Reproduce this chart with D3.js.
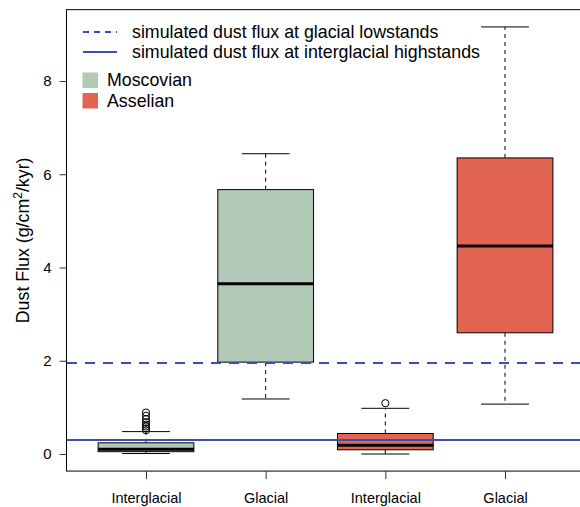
<!DOCTYPE html>
<html>
<head>
<meta charset="utf-8">
<script src="https://cdn.jsdelivr.net/npm/d3@7"></script>
<style>
  html, body { margin: 0; padding: 0; background: #fff; }
  svg { display: block; font-family: "Liberation Sans", Arial, sans-serif; }
</style>
</head>
<body>
<svg id="chart" width="580" height="507"></svg>
<script>
// Group labels along the x axis
const categories = ["Interglacial", "Glacial", "Interglacial", "Glacial"];
// Stage of each box
const stages = ["Moscovian", "Moscovian", "Asselian", "Asselian"];
// Box statistics: lower whisker, lower hinge, median, upper hinge, upper whisker
const whiskerLow  = [0.01, 1.18, 0.00, 1.07];
const hingeLow    = [0.05, 1.97, 0.09, 2.60];
const medians     = [0.10, 3.65, 0.19, 4.46];
const hingeHigh   = [0.24, 5.67, 0.44, 6.35];
const whiskerHigh = [0.48, 6.44, 0.98, 9.16];
// Outlying points per box
const outliers = [
  [0.51, 0.55, 0.59, 0.63, 0.68, 0.75, 0.82, 0.89],
  [],
  [1.09],
  []
];
// Simulated reference fluxes
const glacialLowstand = 1.95;
const interglacialHighstand = 0.30;
const yTicks = [0, 2, 4, 6, 8];

const stageColor = { Moscovian: "#b1cab8", Asselian: "#e26452" };
const refColor = "#3b4fb3";

const svg = d3.select("#chart");

const x = d3.scaleLinear().domain([0.34, 4.66]).range([67, 584]);
const y = d3.scaleLinear().domain([0, 8]).range([454, 81]);
const yLo = -0.366, yHi = 9.53;
const boxHalf = 0.4, capHalf = 0.2;

// Plot frame
svg.append("rect")
  .attr("x", x(0.34) - 0.5).attr("y", y(yHi))
  .attr("width", x(4.66) - x(0.34)).attr("height", y(yLo) - y(yHi))
  .attr("fill", "none").attr("stroke", "#000").attr("stroke-width", 1);

// Boxes
const groups = svg.append("g").selectAll("g")
  .data(categories.map((c, i) => ({ i, c })))
  .join("g");

// whisker stems (dashed)
groups.append("line")
  .attr("x1", d => x(d.i + 1)).attr("x2", d => x(d.i + 1))
  .attr("y1", d => y(hingeHigh[d.i])).attr("y2", d => y(whiskerHigh[d.i]))
  .attr("stroke", "#000").attr("stroke-dasharray", "4,4");
groups.append("line")
  .attr("x1", d => x(d.i + 1)).attr("x2", d => x(d.i + 1))
  .attr("y1", d => y(hingeLow[d.i])).attr("y2", d => y(whiskerLow[d.i]))
  .attr("stroke", "#000").attr("stroke-dasharray", "4,4");
// staples
[whiskerHigh, whiskerLow].forEach(arr => {
  groups.append("line")
    .attr("x1", d => x(d.i + 1 - capHalf)).attr("x2", d => x(d.i + 1 + capHalf))
    .attr("y1", d => y(arr[d.i])).attr("y2", d => y(arr[d.i]))
    .attr("stroke", "#000");
});
// box bodies
groups.append("rect")
  .attr("x", d => x(d.i + 1 - boxHalf))
  .attr("width", d => x(d.i + 1 + boxHalf) - x(d.i + 1 - boxHalf))
  .attr("y", d => y(hingeHigh[d.i]))
  .attr("height", d => y(hingeLow[d.i]) - y(hingeHigh[d.i]))
  .attr("fill", d => stageColor[stages[d.i]])
  .attr("stroke", "#000").attr("stroke-width", 1);
// medians
groups.append("line")
  .attr("x1", d => x(d.i + 1 - boxHalf)).attr("x2", d => x(d.i + 1 + boxHalf))
  .attr("y1", d => y(medians[d.i])).attr("y2", d => y(medians[d.i]))
  .attr("stroke", "#000").attr("stroke-width", 3);
// outliers
groups.selectAll("circle")
  .data(d => outliers[d.i].map(v => ({ i: d.i, v })))
  .join("circle")
  .attr("cx", d => x(d.i + 1)).attr("cy", d => y(d.v)).attr("r", 3.6)
  .attr("fill", "none").attr("stroke", "#000").attr("stroke-width", 1);

// Reference lines
svg.append("line")
  .attr("x1", x(0.34)).attr("x2", x(4.66))
  .attr("y1", y(glacialLowstand)).attr("y2", y(glacialLowstand))
  .attr("stroke", refColor).attr("stroke-width", 2).attr("stroke-dasharray", "10,8");
svg.append("line")
  .attr("x1", x(0.34)).attr("x2", x(4.66))
  .attr("y1", y(interglacialHighstand)).attr("y2", y(interglacialHighstand))
  .attr("stroke", refColor).attr("stroke-width", 2);

// Y axis
const yAxis = d3.axisLeft(y).tickValues(yTicks).tickSize(7).tickPadding(8).tickFormat(d3.format("d"));
const gy = svg.append("g").attr("transform", `translate(${x(0.34) - 0.5},0)`).call(yAxis);
gy.select(".domain").remove();
gy.selectAll("line").attr("stroke", "#333");
gy.selectAll("text").attr("font-size", 15).attr("fill", "#000")
  .attr("font-family", "Liberation Sans, Arial, sans-serif");

// X axis
const xAxis = d3.axisBottom(x).tickValues([1, 2, 3, 4]).tickSize(8).tickPadding(14)
  .tickFormat((d, i) => categories[i]);
const gx = svg.append("g").attr("transform", `translate(0,${y(yLo)})`).call(xAxis);
gx.select(".domain").remove();
gx.selectAll("line").attr("stroke", "#333");
gx.selectAll("text").attr("font-size", 14.5).attr("fill", "#000")
  .attr("font-family", "Liberation Sans, Arial, sans-serif");

// Y axis title, centred on the plot region
const title = svg.append("text")
  .attr("transform", `translate(29,${(y(yLo) + y(yHi)) / 2}) rotate(-90)`)
  .attr("text-anchor", "middle").attr("font-size", 17.8).attr("fill", "#000");
title.append("tspan").text("Dust Flux (g/cm");
title.append("tspan").attr("font-size", 12).attr("dy", -7).text("2");
title.append("tspan").attr("dy", 7).text("/kyr)");

// Legend
const legend = svg.append("g");
const lineItems = [
  { label: "simulated dust flux at glacial lowstands", dash: "6,5", yy: 32 },
  { label: "simulated dust flux at interglacial highstands", dash: null, yy: 52 }
];
lineItems.forEach(it => {
  legend.append("line")
    .attr("x1", 83).attr("x2", 117).attr("y1", it.yy).attr("y2", it.yy)
    .attr("stroke", refColor).attr("stroke-width", 2)
    .attr("stroke-dasharray", it.dash);
  legend.append("text").attr("x", 132).attr("y", it.yy).attr("dy", "0.35em")
    .attr("font-size", 17.8).attr("fill", "#000").text(it.label);
});
["Moscovian", "Asselian"].forEach((s, i) => {
  const yy = 80 + i * 20.5;
  legend.append("rect").attr("x", 82.5).attr("y", yy - 7.5).attr("width", 15.5).attr("height", 15.5)
    .attr("fill", stageColor[s]);
  legend.append("text").attr("x", 107).attr("y", yy).attr("dy", "0.35em")
    .attr("font-size", 17.8).attr("fill", "#000").text(s);
});
</script>
</body>
</html>
